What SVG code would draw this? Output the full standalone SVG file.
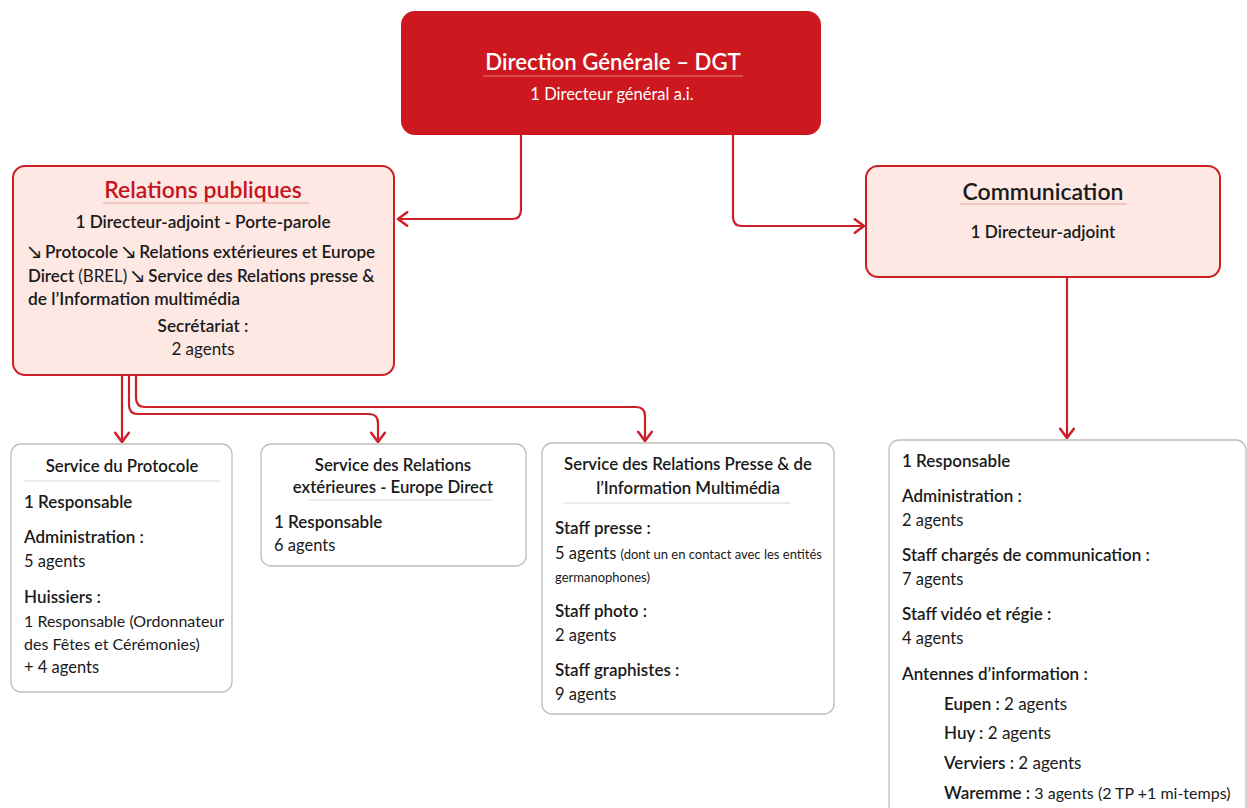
<svg xmlns="http://www.w3.org/2000/svg" width="1247" height="808" viewBox="0 0 1247 808">
<defs>
<marker id="arr" markerUnits="userSpaceOnUse" markerWidth="16" markerHeight="16" refX="10" refY="7" orient="auto" viewBox="0 0 14 14">
<path d="M2,1 L10,7 L2,13" fill="none" stroke="#cc1f26" stroke-width="2.2" stroke-linecap="round" stroke-linejoin="round"/>
</marker>
<style>
text{font-family:"Lato","Liberation Sans",sans-serif;fill:#1a1a1a;}
.dgt{fill:#cc181e;}
.sup{fill:#fde8e4;stroke:#cc1f26;stroke-width:2;}
.sub{fill:#ffffff;stroke:#bdbdbd;stroke-width:1.3;}
.conn{fill:none;stroke:#cc1f26;stroke-width:2.2;marker-end:url(#arr);}
.ttl{font-size:23px;font-weight:600;text-anchor:middle;}
.st{font-size:16.8px;font-weight:600;text-anchor:middle;}
.b{font-size:17px;font-weight:600;}
.r{font-size:16.5px;font-weight:400;}
.sm{font-size:13px;font-weight:400;}
.ul{stroke:#e8a09c;stroke-width:1;}
.gl{stroke:#d8d8d8;stroke-width:1;}
</style>
</defs>

<g id="connectors">
<path class="conn" d="M521,135 V210 Q521,219 512,219 H398"/>
<path class="conn" d="M733,135 V217 Q733,226 742,226 H864"/>
<path class="conn" d="M1067,277 V438"/>
<path class="conn" d="M122,375 V442"/>
<path class="conn" d="M129,375 V405 Q129,414 138,414 H369 Q378,414 378,423 V442"/>
<path class="conn" d="M136,375 V398 Q136,407 145,407 H636 Q645,407 645,416 V441"/>
</g>

<g id="dgt">
<rect class="dgt" x="401" y="11" width="420" height="124" rx="14"/>
<text class="ttl" x="613" y="70" style="fill:#ffffff;font-size:22.2px">Direction Générale – DGT</text>
<line x1="483" y1="76" x2="743" y2="76" stroke="#e87a7a" stroke-width="1"/>
<text x="612" y="100" style="fill:#ffffff;font-size:16.5px;text-anchor:middle">1 Directeur général a.i.</text>
</g>

<g id="relations-publiques">
<rect class="sup" x="13" y="166" width="381" height="209" rx="12"/>
<text class="ttl" x="203" y="198" style="fill:#c8141c">Relations publiques</text>
<line class="ul" x1="103" y1="203" x2="309" y2="203"/>
<text class="st" x="203" y="228" style="font-size:17.2px">1 Directeur-adjoint - Porte-parole</text>
<text class="b" x="28" y="258" style="font-size:17.1px">↘ Protocole ↘ Relations extérieures et Europe</text>
<text class="b" x="28" y="282" style="font-size:16.9px">Direct <tspan style="font-weight:400">(BREL)</tspan> ↘ Service des Relations presse &amp;</text>
<text class="b" x="28" y="305" style="font-size:17.4px">de l’Information multimédia</text>
<text class="st" x="203" y="332" style="font-size:17.2px">Secrétariat :</text>
<text class="r" x="203" y="355" style="text-anchor:middle;font-size:17px">2 agents</text>
</g>

<g id="communication">
<rect class="sup" x="866" y="166" width="354" height="111" rx="12"/>
<text class="ttl" x="1043" y="200">Communication</text>
<line class="ul" x1="960" y1="204" x2="1127" y2="204"/>
<text class="st" x="1043" y="238" style="font-size:17.2px">1 Directeur-adjoint</text>
</g>

<g id="service-protocole">
<rect class="sub" x="11" y="444" width="221" height="248" rx="10"/>
<text class="st" x="122" y="472">Service du Protocole</text>
<line class="gl" x1="24" y1="481" x2="220" y2="481"/>
<text class="b" x="24" y="508">1 Responsable</text>
<text class="b" x="24" y="543">Administration :</text>
<text class="r" x="24" y="567">5 agents</text>
<text class="b" x="24" y="603">Huissiers :</text>
<text class="r" x="24" y="627" style="font-size:16px">1 Responsable (Ordonnateur</text>
<text class="r" x="24" y="650" style="font-size:16px">des Fêtes et Cérémonies)</text>
<text class="r" x="24" y="673">+ 4 agents</text>
</g>

<g id="service-relations-exterieures">
<rect class="sub" x="261" y="444" width="265" height="122" rx="10"/>
<text class="st" x="393" y="471">Service des Relations</text>
<text class="st" x="393" y="493">extérieures - Europe Direct</text>
<line class="gl" x1="308" y1="500" x2="493" y2="500"/>
<text class="b" x="274" y="528">1 Responsable</text>
<text class="r" x="274" y="551">6 agents</text>
</g>

<g id="service-presse">
<rect class="sub" x="542" y="443" width="292" height="271" rx="10"/>
<text class="st" x="688" y="470">Service des Relations Presse &amp; de</text>
<text class="st" x="688" y="494">l’Information Multimédia</text>
<line class="gl" x1="563" y1="503" x2="790" y2="503"/>
<text class="b" x="555" y="534">Staff presse :</text>
<text class="r" x="555" y="559">5 agents <tspan class="sm">(dont un en contact avec les entités</tspan></text>
<text class="sm" x="555" y="582">germanophones)</text>
<text class="b" x="555" y="617">Staff photo :</text>
<text class="r" x="555" y="641">2 agents</text>
<text class="b" x="555" y="676">Staff graphistes :</text>
<text class="r" x="555" y="700">9 agents</text>
</g>

<g id="service-communication">
<rect class="sub" x="889" y="440" width="357" height="390" rx="10"/>
<text class="b" x="902" y="467">1 Responsable</text>
<text class="b" x="902" y="502">Administration :</text>
<text class="r" x="902" y="526">2 agents</text>
<text class="b" x="902" y="561">Staff chargés de communication :</text>
<text class="r" x="902" y="585">7 agents</text>
<text class="b" x="902" y="620">Staff vidéo et régie :</text>
<text class="r" x="902" y="644">4 agents</text>
<text class="b" x="902" y="680">Antennes d’information :</text>
<text class="b" x="944" y="710">Eupen : <tspan style="font-weight:400">2 agents</tspan></text>
<text class="b" x="944" y="739">Huy : <tspan style="font-weight:400">2 agents</tspan></text>
<text class="b" x="944" y="769">Verviers : <tspan style="font-weight:400">2 agents</tspan></text>
<text class="b" x="944" y="799">Waremme : <tspan style="font-weight:400;font-size:16px">3 agents (2 TP +1 mi-temps)</tspan></text>
</g>
</svg>
